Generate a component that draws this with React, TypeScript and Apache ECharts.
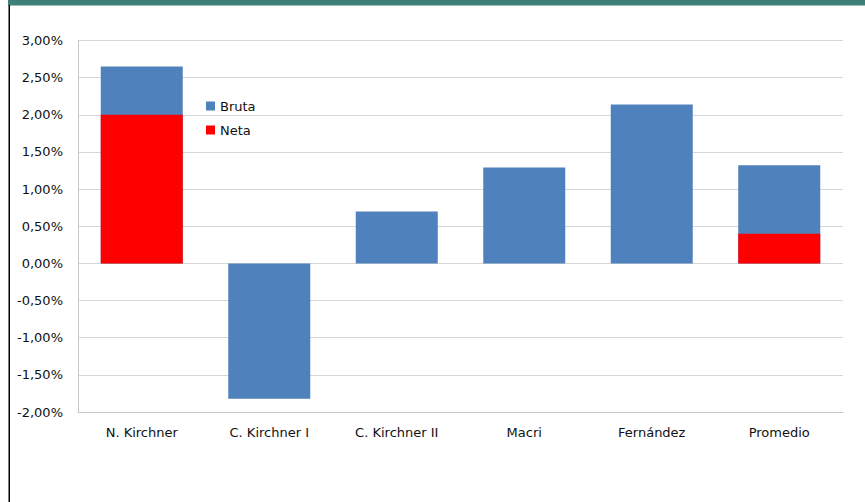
import React, { useEffect, useRef } from "react";
import * as echarts from "echarts";

const categories = ["N. Kirchner", "C. Kirchner I", "C. Kirchner II", "Macri", "Fernández", "Promedio"];
const brutaValues = [2.65, -1.82, 0.7, 1.29, 2.14, 1.32];
const netaValues: (number | string)[] = [2.0, "-", "-", "-", "-", 0.4];
const yMin = -2;
const yMax = 3;
const yInterval = 0.5;

const FONT = "'DejaVu Sans', sans-serif";

export default function App() {
  const ref = useRef<HTMLDivElement>(null);
  useEffect(() => {
    if (!ref.current) return;
    const chart = echarts.init(ref.current, undefined, { renderer: "svg" });
    chart.setOption({
      animation: false,
      backgroundColor: "#ffffff",
      graphic: [
        { type: "rect", left: 8, top: 0, shape: { width: 857, height: 5.5 }, style: { fill: "#3d8077" } },
        { type: "rect", left: 8.5, top: 5, shape: { width: 1.5, height: 497 }, style: { fill: "#000000" } },
      ],
      grid: { left: 78, right: 22, top: 40.5, bottom: 90 },
      legend: {
        orient: "vertical",
        left: 206,
        top: 99,
        padding: 0,
        icon: "rect",
        itemWidth: 9,
        itemHeight: 9,
        itemGap: 10,
        textStyle: { fontFamily: FONT, fontSize: 13, color: "#111111", lineHeight: 14 },
        data: ["Bruta", "Neta"],
      },
      xAxis: {
        type: "category",
        data: categories,
        axisLine: { onZero: false, lineStyle: { color: "#c8c8c8" } },
        axisTick: { show: false },
        axisLabel: { fontFamily: FONT, fontSize: 13, color: "#111111", margin: 14, interval: 0 },
      },
      yAxis: {
        type: "value",
        min: yMin,
        max: yMax,
        interval: yInterval,
        axisLine: { show: true, lineStyle: { color: "#c8c8c8" } },
        axisTick: { show: false },
        splitLine: { lineStyle: { color: "#d6d6d6" } },
        axisLabel: {
          fontFamily: FONT,
          fontSize: 13,
          color: "#111111",
          margin: 15,
          formatter: (v: number) => v.toFixed(2).replace(".", ",") + "%",
        },
      },
      series: [
        {
          name: "Bruta",
          type: "bar",
          data: brutaValues,
          barWidth: 82,
          barGap: "-100%",
          itemStyle: { color: "#4f81bd" },
        },
        {
          name: "Neta",
          type: "bar",
          data: netaValues,
          barWidth: 82,
          barGap: "-100%",
          itemStyle: { color: "#ff0000" },
        },
      ],
    });
    return () => chart.dispose();
  }, []);
  return (
    <div
      ref={ref}
      style={{ position: "absolute", left: 0, top: 0, width: 865, height: 502 }}
    />
  );
}
